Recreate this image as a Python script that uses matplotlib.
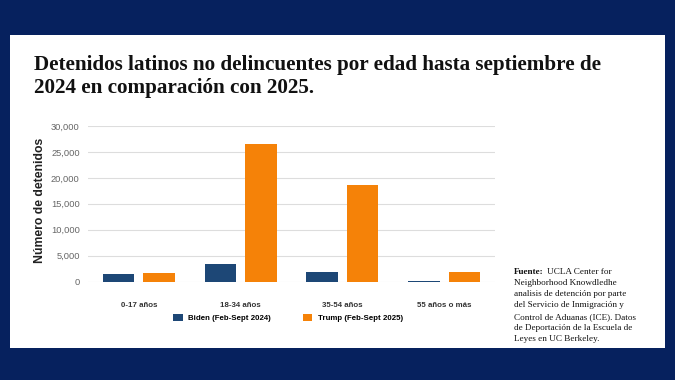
import numpy as np
import matplotlib.pyplot as plt
from matplotlib.patches import Rectangle

# Datos
categorias = ["0-17 años", "18-34 años", "35-54 años", "55 años o más"]
biden = [1400, 3350, 1750, 150]
trump = [1600, 26500, 18600, 1900]
etiquetas_y = ["0", "5,000", "10,000", "15,000", "20,000", "25,000", "30,000"]

navy = "#06215e"
azul = "#1d4776"
naranja = "#f58208"

W, H = 675, 380
fig = plt.figure(figsize=(6.75, 3.8), dpi=100, facecolor=navy)

# panel blanco
fig.patches.append(Rectangle((10 / W, 1 - 348 / H), 655 / W, 313 / H,
                             transform=fig.transFigure, facecolor="white",
                             edgecolor="none", zorder=-10))

titulo = ["Detenidos latinos no delincuentes por edad hasta septiembre de",
          "2024 en comparación con 2025."]
for linea, yb in zip(titulo, [70, 93.5]):
    fig.text(34 / W, 1 - yb / H, linea, fontsize=15.2, fontweight="bold",
             family="Liberation Serif", va="baseline", ha="left", color="#111111")

ax = fig.add_axes([88 / W, 1 - 281.5 / H, 407 / W, 155.5 / H])
x = np.arange(len(categorias))
ax.bar(x - 0.2, biden, width=0.31, color=azul, label="Biden (Feb-Sept 2024)", zorder=3)
ax.bar(x + 0.2, trump, width=0.31, color=naranja, label="Trump (Feb-Sept 2025)", zorder=3)

ax.set_xlim(-0.5, 3.5)
ax.set_ylim(0, 30000)
ax.set_yticks(range(0, 30001, 5000))
ax.set_yticklabels(etiquetas_y, fontsize=6.7, color="#666666", family="Liberation Sans")
ax.set_xticks(x)
ax.set_xticklabels(categorias, fontsize=5.7, fontweight="bold", color="#333333",
                   family="Liberation Sans")
ax.tick_params(axis="both", length=0)
ax.tick_params(axis="x", pad=15)
ax.tick_params(axis="y", pad=6)
ax.grid(axis="y", color="#dddddd", linewidth=0.8, zorder=0)
for s in ax.spines.values():
    s.set_visible(False)

fig.text(40 / W, 1 - 200 / H, "Número de detenidos", rotation=90, fontsize=8.8,
         fontweight="bold", family="Liberation Sans", color="#222222",
         ha="center", va="center")

ax.legend(loc="center left", bbox_to_anchor=(172.7 / W, 1 - 318 / H),
          bbox_transform=fig.transFigure, ncol=2, frameon=False,
          borderpad=0, borderaxespad=0,
          handlelength=1.25, handleheight=1.1, handletextpad=0.7, columnspacing=4.0,
          prop={"weight": "bold", "size": 5.7, "family": "Liberation Sans"})

# fuente
fuente = ["UCLA Center for", "Neighborhood Knowdledhe", "analisis de detención por parte",
          "del Servicio de Inmigración y", "Control de Aduanas (ICE). Datos",
          "de Deportación de la Escuela de", "Leyes en UC Berkeley."]
t = fig.text(514 / W, 1 - 273.5 / H, "Fuente:", fontsize=6.6, fontweight="bold",
             family="Liberation Serif", va="baseline", ha="left", color="#111111")
fig.canvas.draw()
bb = t.get_window_extent()
fig.text((bb.x1 + 3) / W, 1 - 273.5 / H, fuente[0], fontsize=6.6,
         family="Liberation Serif", va="baseline", ha="left", color="#111111")
for i, linea in enumerate(fuente[1:], start=1):
    fig.text(514 / W, 1 - (273.5 + 11.3 * i) / H, linea, fontsize=6.6,
             family="Liberation Serif", va="baseline", ha="left", color="#111111")

plt.savefig("out.png", dpi=100, facecolor=navy)
